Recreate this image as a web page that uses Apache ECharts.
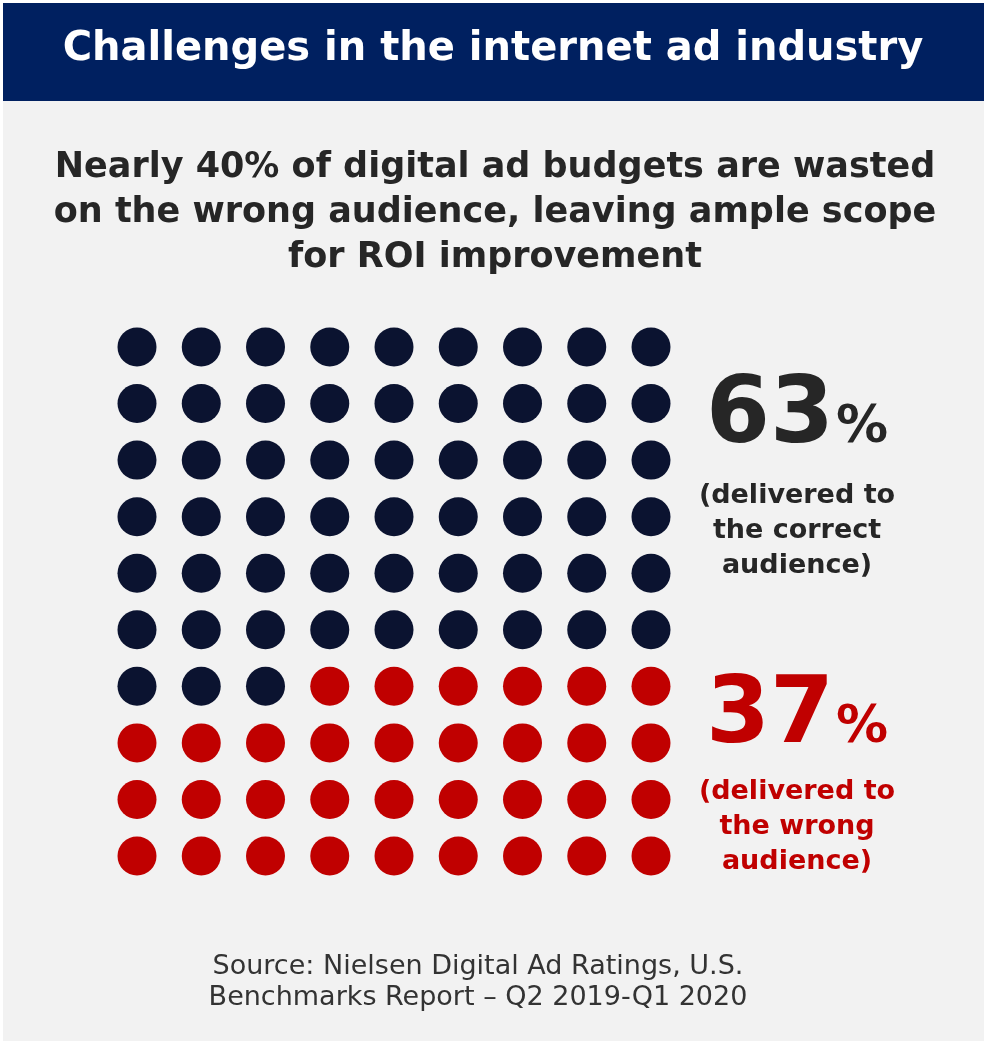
<!DOCTYPE html>
<html>
<head>
<meta charset="utf-8">
<script src="https://cdn.jsdelivr.net/npm/echarts@6/dist/echarts.min.js"></script>
<style>
  html, body { margin: 0; padding: 0; background: #ffffff; }
  #chart { width: 987px; height: 1044px; }
</style>
</head>
<body>
<div id="chart"></div>
<script>
  // waffle data: 90 dots, 9 per row
  var groups = ['correct', 'wrong'];
  var shares = [63, 37];
  var dotCounts = [57, 33];
  var dotColors = ['#0b1330', '#c00000'];
  var columns = 9;
  var rows = 10;

  var font = '"DejaVu Sans", Verdana, sans-serif';

  // one scatter series per group, cells filled row by row
  var series = [];
  var idx = 0;
  for (var g = 0; g < groups.length; g++) {
    var pts = [];
    for (var k = 0; k < dotCounts[g]; k++) {
      pts.push([idx % columns, Math.floor(idx / columns)]);
      idx++;
    }
    series.push({
      name: groups[g],
      type: 'scatter',
      symbol: 'circle',
      symbolSize: 39,
      itemStyle: { color: dotColors[g], opacity: 1 },
      silent: true,
      data: pts
    });
  }

  var myChart = echarts.init(document.getElementById('chart'));
  var option = {
    backgroundColor: '#ffffff',
    animation: false,
    grid: { left: 137, right: 336, top: 347, bottom: 188 },
    xAxis: { type: 'value', min: 0, max: columns - 1, show: false },
    yAxis: { type: 'value', min: 0, max: rows - 1, inverse: true, show: false },
    graphic: [
      { type: 'rect', z: -10, shape: { x: 3, y: 3, width: 981, height: 1038 }, style: { fill: '#f2f2f2' } },
      { type: 'rect', z: -5, shape: { x: 3, y: 3, width: 981, height: 98 }, style: { fill: '#002060' } },
      {
        type: 'text', x: 493, y: 50,
        style: { text: 'Challenges in the internet ad industry', fill: '#ffffff', font: 'bold 40px ' + font, align: 'center', verticalAlign: 'middle' }
      },
      {
        type: 'text', x: 495, y: 213,
        style: {
          text: 'Nearly 40% of digital ad budgets are wasted\non the wrong audience, leaving ample scope\nfor ROI improvement',
          fill: '#262626', font: 'bold 35px ' + font, lineHeight: 45, align: 'center', verticalAlign: 'middle'
        }
      },
      {
        type: 'text', x: 797, y: 414,
        style: {
          text: '{big|' + shares[0] + '}{pct|%}', align: 'center', verticalAlign: 'middle',
          rich: {
            big: { fontSize: 92, fontWeight: 'bold', fontFamily: font, fill: '#262626', verticalAlign: 'bottom', lineHeight: 100 },
            pct: { fontSize: 52, fontWeight: 'bold', fontFamily: font, fill: '#262626', verticalAlign: 'bottom', lineHeight: 100, padding: [0, 0, 10, 2] }
          }
        }
      },
      {
        type: 'text', x: 797, y: 531,
        style: { text: '(delivered to\nthe correct\naudience)', fill: '#262626', font: 'bold 27px ' + font, lineHeight: 35, align: 'center', verticalAlign: 'middle' }
      },
      {
        type: 'text', x: 797, y: 714,
        style: {
          text: '{big|' + shares[1] + '}{pct|%}', align: 'center', verticalAlign: 'middle',
          rich: {
            big: { fontSize: 92, fontWeight: 'bold', fontFamily: font, fill: '#c00000', verticalAlign: 'bottom', lineHeight: 100 },
            pct: { fontSize: 52, fontWeight: 'bold', fontFamily: font, fill: '#c00000', verticalAlign: 'bottom', lineHeight: 100, padding: [0, 0, 10, 2] }
          }
        }
      },
      {
        type: 'text', x: 797, y: 827,
        style: { text: '(delivered to\nthe wrong\naudience)', fill: '#c00000', font: 'bold 27px ' + font, lineHeight: 35, align: 'center', verticalAlign: 'middle' }
      },
      {
        type: 'text', x: 478, y: 982,
        style: { text: 'Source: Nielsen Digital Ad Ratings, U.S.\nBenchmarks Report \u2013 Q2 2019-Q1 2020', fill: '#333333', font: '27px ' + font, lineHeight: 31, align: 'center', verticalAlign: 'middle' }
      }
    ],
    series: series
  };
  myChart.setOption(option);
</script>
</body>
</html>
